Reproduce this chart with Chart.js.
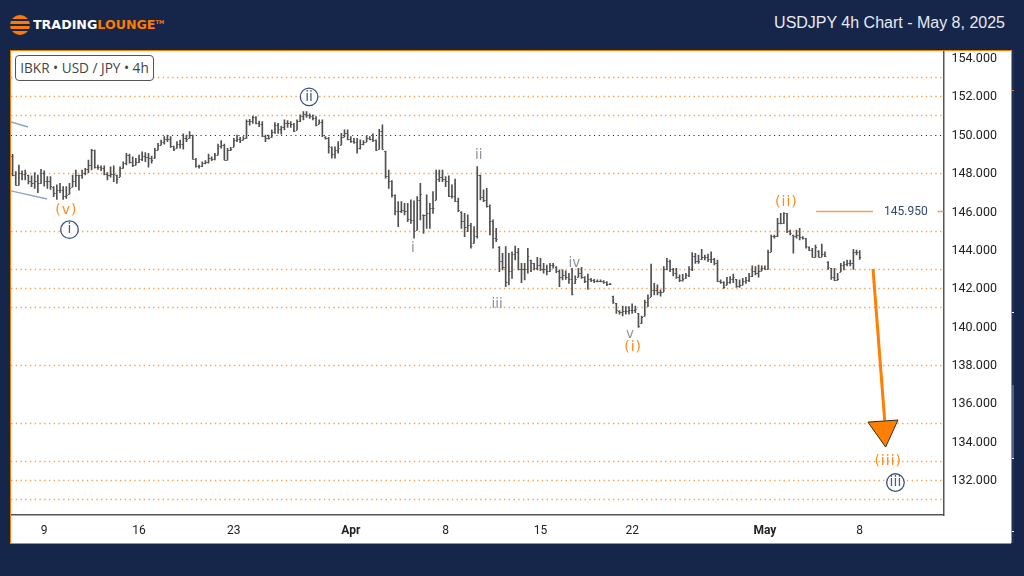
<!DOCTYPE html>
<html>
<head>
<meta charset="utf-8">
<title>USDJPY 4h Chart</title>
<style>
  html, body { margin: 0; padding: 0; width: 1024px; height: 576px; overflow: hidden; background: #16264a; }
  #panel { position: absolute; left: 10px; top: 50px; width: 999.5px; height: 492px; background: #fff; border-top: 1.5px solid #f57c00; border-left: 1.5px solid #f57c00; border-bottom: 1.5px solid #e8802c; box-sizing: content-box; }
  #strip { position: absolute; left: 1011px; top: 50px; width: 3px; height: 493px; background: #1e3058; border-left: 1.2px solid #e8802c; box-sizing: border-box; }
  #stripThumb { position: absolute; left: 1012px; top: 385px; width: 2px; height: 73px; background: #4d5f86; }
  .nick { position: absolute; left: 1012px; width: 2px; height: 1px; background: #fff; }
  #wrap { position: absolute; left: 11px; top: 51px; width: 1000px; height: 492px; }
  #title { position: absolute; right: 19px; top: 14px; font: 16px "Liberation Sans", Arial, sans-serif; color: #e6eaf2; white-space: nowrap; }
  #symbol { position: absolute; left: 15px; top: 55px; width: 139px; height: 26px; box-sizing: border-box; background: #fff; border: 1px solid #555; border-radius: 4px; font: 13.6px "Open Sans", sans-serif; color: #444; line-height: 24px; text-align: center; white-space: nowrap; }
  #logoMark { position: absolute; left: 10px; top: 15px; width: 20px; height: 20px; border-radius: 50%;
    background: linear-gradient(#ff7a00 0 22%, #16264a 22% 30%, #ff7a00 30% 46%, #16264a 46% 54%, #ff7a00 54% 70%, #16264a 70% 78%, #ff7a00 78%); }
  #logoText { position: absolute; left: 33px; top: 17px; font: bold 12.4px "DejaVu Sans", sans-serif; color: #fff; white-space: nowrap; transform: scaleX(1.02); transform-origin: left; font-variant: small-caps; }
  #logoText span { color: #ff7a00; }
  #logoText sup { font-size: 5px; color: #ff7a00; vertical-align: 5px; }
</style>
</head>
<body>
<div id="panel"></div>
<div id="strip"></div>
<div id="stripThumb"></div>
<div class="nick" style="top:312px"></div>
<div class="nick" style="top:458px"></div>
<div class="nick" style="top:531px"></div>
<div class="nick" style="top:90px;background:#f57c00"></div>
<div id="logoMark"></div>
<div id="logoText">TRADING<span>LOUNGE</span><sup>TM</sup></div>
<div id="title">USDJPY 4h Chart - May 8, 2025</div>
<div id="wrap"><canvas id="chart"></canvas></div>
<div id="symbol">IBKR • USD / JPY • 4h</div>

<script src="https://cdn.jsdelivr.net/npm/chart.js@4"></script>
<script>
// 4h bars
const highs = [
  148.98,148.07,148.42,148.12,148.16,147.9,147.85,148.02,147.9,148.19,
  148.12,147.81,147.81,147.29,147.38,147.46,147.29,147.29,147.46,147.9,
  148.16,147.9,148.16,148.25,148.68,149.24,149.2,148.42,148.37,148.37,
  148.02,148.33,148.37,147.9,148.33,148.59,149.03,148.99,148.85,148.77,
  148.94,149.11,149.06,149.03,148.89,149.29,149.55,149.72,149.9,149.98,
  149.9,149.41,149.64,149.72,150.04,149.98,150.16,149.98,148.77,148.42,
  148.59,148.65,148.99,148.85,149.03,149.51,149.69,149.51,149.29,149.34,
  149.81,149.98,149.86,149.9,150.77,150.8,150.97,150.94,150.71,150.68,
  149.98,149.98,150.25,150.63,150.59,150.45,150.77,150.73,150.68,150.59,
  150.77,151.03,151.2,151.2,151.08,151.03,150.94,150.77,150.77,149.9,
  149.86,149.37,149.37,149.64,150.07,150.25,150.25,149.9,149.81,149.81,
  149.73,149.69,149.94,149.9,150.04,149.73,150.28,150.51,149.15,148.16,
  147.61,146.86,146.51,146.51,146.42,146.42,146.6,146.55,146.77,147.47,
  145.82,146.86,146.42,147.03,148.16,148.16,148.16,147.82,147.85,147.38,
  147.68,146.69,145.99,145.9,145.82,145.38,145.21,148.34,147.9,147.12,
  147.2,146.34,145.56,145.12,144.17,143.82,144.17,143.82,143.9,144.2,
  144.08,143.3,143.3,144.08,143.47,143.3,143.61,143.56,143.3,143.21,
  143.3,143.3,143.12,142.95,142.95,142.91,142.78,143.04,142.64,143.04,
  143.09,142.6,142.74,142.51,142.46,142.43,142.43,142.39,142.34,142.25,
  141.59,141.21,140.83,141.07,141.04,141.04,141.18,141.07,140.69,140.55,
  141.38,141.65,143.26,142.25,142.17,141.91,143.12,143.56,143.47,143.04,
  143.04,142.69,142.72,142.77,143.12,143.85,143.82,143.73,144.02,143.73,
  143.78,143.9,143.56,143.47,142.43,142.34,142.57,142.6,142.74,142.46,
  142.43,142.51,142.57,142.77,143.16,143.12,143.21,143.16,143.16,143.99,
  144.77,144.77,145.64,145.9,145.94,145.9,145.03,144.77,145.03,145.12,
  144.69,144.6,144.16,144.08,144.25,143.96,144.3,143.9,143.38,143.03,
  143.03,142.77,143.29,143.38,143.47,143.47,144.02,143.99,143.96
];
const lows = [
  147.85,147.37,147.37,147.64,147.64,147.43,147.29,147.2,146.98,147.46,
  147.32,147.2,147.15,146.77,146.63,146.98,146.63,146.68,146.9,147.29,
  147.29,147.11,147.72,147.9,148.02,148.16,148.25,148.19,148.12,147.9,
  147.64,147.78,147.55,147.46,147.81,148.25,148.42,148.51,148.33,148.42,
  148.54,148.65,148.59,148.3,148.51,148.77,149.2,149.46,149.51,149.64,
  149.34,149.17,149.29,149.29,149.24,149.64,149.81,148.72,148.3,148.25,
  148.33,148.47,148.51,148.65,148.68,148.94,149.29,148.68,148.68,149.17,
  149.38,149.64,149.58,149.72,149.81,150.5,150.59,150.56,150.42,149.9,
  149.64,149.76,149.86,150.07,150.07,150.02,150.25,150.38,150.38,150.16,
  150.25,150.68,150.77,150.9,150.85,150.77,150.45,150.56,149.9,149.76,
  149.03,148.77,148.77,149.03,149.47,149.9,149.73,149.59,149.55,149.03,
  149.24,149.47,149.64,149.73,149.64,149.17,149.24,149.24,147.73,147.2,
  146.74,145.82,145.21,145.94,145.82,145.47,145.38,144.6,145.03,145.56,
  144.86,145.12,145.12,145.9,146.6,147.55,147.55,147.29,146.77,146.69,
  146.51,145.99,145.12,144.69,144.95,144.08,144.34,144.6,146.6,146.51,
  146.22,144.77,144.08,144.43,142.86,142.95,142.08,142.17,142.51,143.47,
  142.95,142.29,142.43,142.78,142.86,142.95,142.95,142.91,142.78,142.69,
  142.86,143.04,142.81,142.08,142.43,142.46,142.25,141.65,142.25,142.57,
  142.51,142.29,141.94,142.34,142.29,142.32,142.32,142.25,142.13,142.18,
  141.21,140.69,140.65,140.55,140.65,140.65,140.69,140.73,139.96,140.17,
  140.55,141.04,141.56,141.65,141.65,141.59,141.82,142.95,142.86,142.64,
  142.51,142.34,142.37,142.51,142.6,142.91,143.29,143.29,143.5,143.47,
  143.38,143.33,143.21,142.34,142.25,141.99,142.17,142.25,142.29,142.04,
  142.04,142.17,142.25,142.34,142.6,142.69,142.57,142.91,142.98,142.98,
  143.9,144.6,144.69,145.35,145.38,144.89,144.77,143.82,144.6,144.51,
  144.55,144.08,143.96,143.61,143.61,143.61,143.64,143.64,142.98,142.46,
  142.39,142.43,142.86,142.95,143.16,143.16,142.98,143.73,143.5
];
const opens = [
  148.9,147.9,147.4,148.0,147.95,147.9,147.6,147.5,147.6,147.5,
  148.0,147.6,147.6,147.29,146.95,147.1,147.1,146.8,146.9,147.29,
  147.6,147.9,147.9,148.0,148.2,148.4,149.2,148.3,148.3,148.25,
  147.95,147.9,147.95,147.9,147.81,148.25,148.5,148.95,148.6,148.42,
  148.6,148.75,148.9,148.85,148.8,148.77,149.2,149.46,149.6,149.75,
  149.8,149.4,149.29,149.5,149.5,149.85,149.81,149.98,148.75,148.35,
  148.35,148.5,148.6,148.8,148.75,148.95,149.4,149.45,148.7,149.2,
  149.38,149.7,149.8,149.72,149.85,150.7,150.7,150.9,150.6,150.55,
  149.95,149.85,149.86,150.15,150.5,150.3,150.4,150.6,150.6,150.55,
  150.25,150.7,150.95,151.1,151.05,150.95,150.85,150.56,150.65,149.9,
  149.85,149.37,149.0,149.2,149.47,149.9,150.1,149.8,149.65,149.6,
  149.3,149.5,149.64,149.85,149.8,149.7,149.24,150.2,149.15,147.85,
  147.6,146.85,146.0,146.0,146.1,146.0,145.6,145.55,145.03,146.6,
  145.82,145.8,145.9,146.2,146.6,147.7,147.8,147.7,147.6,146.8,
  146.8,146.55,145.99,145.5,145.2,145.3,144.34,144.7,147.9,146.75,
  146.6,146.3,145.5,144.6,144.17,143.4,143.1,142.3,142.9,143.8,
  143.9,143.0,143.0,143.0,143.47,143.3,143.05,143.2,143.0,143.0,
  142.9,143.2,143.12,142.9,142.6,142.7,142.6,142.5,142.25,142.57,
  142.8,142.6,142.35,142.5,142.45,142.4,142.38,142.39,142.3,142.2,
  141.59,141.21,140.83,140.75,140.8,140.8,140.85,140.85,140.69,140.17,
  140.55,141.3,141.56,141.9,141.9,141.8,141.82,143.0,143.4,143.0,
  142.8,142.6,142.45,142.51,142.7,143.0,143.7,143.4,143.5,143.6,
  143.6,143.5,143.5,143.3,142.4,142.3,142.17,142.3,142.5,142.46,
  142.1,142.17,142.35,142.45,142.65,142.9,142.8,142.91,143.05,143.0,
  143.9,144.7,144.7,145.4,145.4,145.9,145.0,144.77,144.7,144.75,
  144.65,144.6,144.16,144.0,143.65,143.96,143.65,143.8,143.38,143.03,
  142.6,142.45,142.86,143.2,143.25,143.3,143.3,143.9,143.9
];
const closes = [
  147.9,147.4,148.0,147.95,148.0,147.6,147.5,147.6,147.5,148.0,
  147.6,147.6,147.3,146.95,147.1,147.1,146.8,146.85,147.2,147.6,
  147.9,147.9,148.0,148.2,148.4,149.2,148.3,148.3,148.25,147.95,
  147.9,147.95,147.95,147.7,148.25,148.5,148.95,148.6,148.4,148.6,
  148.75,148.9,148.85,148.8,148.7,149.2,149.45,149.6,149.75,149.8,
  149.4,149.25,149.5,149.5,149.85,149.8,150.0,148.75,148.35,148.35,
  148.5,148.6,148.8,148.75,148.95,149.4,149.45,148.7,149.2,149.25,
  149.7,149.8,149.7,149.85,150.7,150.7,150.9,150.6,150.55,149.95,
  149.85,149.85,150.15,150.5,150.3,150.4,150.6,150.6,150.55,150.2,
  150.7,150.95,151.1,151.05,150.95,150.85,150.5,150.65,150.0,149.85,
  149.4,149.0,149.2,149.3,149.9,150.1,149.8,149.65,149.6,149.3,
  149.5,149.6,149.85,149.8,149.7,149.2,150.2,149.25,147.85,147.6,
  146.85,146.0,146.0,146.1,146.0,145.6,145.55,145.0,146.6,146.9,
  145.8,145.9,146.2,146.2,147.7,147.8,147.7,147.6,146.8,146.8,
  146.55,146.1,145.5,145.2,145.3,144.2,144.7,147.9,146.75,146.6,
  146.3,145.5,144.6,144.55,143.4,143.1,142.3,142.9,143.8,143.9,
  143.0,143.0,143.0,143.7,143.3,143.05,143.2,143.0,143.0,142.9,
  143.2,143.2,142.9,142.6,142.7,142.6,142.5,141.7,142.5,142.8,
  142.6,142.35,142.5,142.45,142.4,142.38,142.4,142.3,142.2,142.2,
  141.3,140.85,140.75,140.8,140.8,140.85,140.85,140.9,140.05,140.5,
  141.3,141.5,141.9,141.9,141.8,141.8,143.0,143.4,143.0,142.8,
  142.6,142.45,142.5,142.7,143.0,143.7,143.4,143.4,143.6,143.6,
  143.5,143.5,143.3,142.4,142.3,142.05,142.3,142.5,142.6,142.1,
  142.15,142.35,142.45,142.65,142.9,142.8,142.9,143.05,143.0,143.9,
  144.7,144.7,145.4,145.4,145.9,145.0,144.85,144.7,144.75,144.65,
  144.6,144.2,144.0,143.65,144.15,143.65,143.8,143.7,143.1,142.6,
  142.45,142.5,143.2,143.25,143.3,143.3,143.9,143.9,143.6
];

// axis
const slotCount = 295;
const priceMin = 130.18;
const priceMax = 154.36;
const priceTicks = [132,134,136,138,140,142,144,146,148,150,152,154];
const timeTickSlots = [10,40,70,107,137,167,196,238,268];
const timeTickLabels = ['9','16','23','Apr','8','15','22','May','8'];
const boldTimeLabels = ['Apr','May'];

// horizontal levels
const orangeLevels = [153,152,151,148,145,143,142,141,138,135,133,132,131];
const blackLevels = [150];
const targetLevel = 145.95;
const targetLabel = '145.950';

// wave counts: slot, price
const orangeWaves = [['(v)',17,146.05],['(i)',196.3,138.9],['(ii)',244.8,146.45],['(iii)',277,133.0]];
const navyWaves = [['i',18,145.05],['ii',93.8,151.97],['iii',279.3,131.87]];
const grayWaves = [['i',126.6,144.05],['ii',147.5,148.9],['iii',153.3,141.15],['iv',177.7,143.3],['v',195.3,139.6]];

const timeLabels = highs.concat(new Array(slotCount - highs.length).fill(null)).map((_, i) => {
  const at = timeTickSlots.indexOf(i);
  return at >= 0 ? timeTickLabels[at] : '';
});
const ranges = lows.map((lo, i) => [lo, highs[i]]);

function waveText(c, str, x, y, color) {
  c.fillStyle = color;
  c.textAlign = 'center';
  c.textBaseline = 'middle';
  c.fillText(str, x, y);
}

const overlayPlugin = {
  id: 'overlay',
  // level lines go under the bars
  beforeDatasetsDraw(chart) {
    const { ctx: c, chartArea: a, scales: { x, y } } = chart;
    c.save();
    c.lineWidth = 1.4;
    c.strokeStyle = '#f8a24e';
    c.setLineDash([1.4, 3.34]);
    orangeLevels.forEach(p => {
      const py = Math.round(y.getPixelForValue(p)) + 0.5;
      c.beginPath(); c.moveTo(a.left, py); c.lineTo(a.right, py); c.stroke();
    });
    c.strokeStyle = '#111';
    c.lineWidth = 1;
    c.setLineDash([1, 3.74]);
    blackLevels.forEach(p => {
      const py = Math.round(y.getPixelForValue(p)) + 0.5;
      c.beginPath(); c.moveTo(a.left, py); c.lineTo(a.right, py); c.stroke();
    });
    c.restore();
  },
  afterDatasetsDraw(chart) {
    const { ctx: c, chartArea: a, scales: { x, y } } = chart;
    const X = v => x.getPixelForValue(v), Y = v => y.getPixelForValue(v);
    c.save();

    // open / close ticks
    c.strokeStyle = '#555';
    c.lineWidth = 1;
    highs.forEach((_, i) => {
      const px = X(i);
      const po = Math.round(Y(opens[i])) + 0.5, pc = Math.round(Y(closes[i])) + 0.5;
      c.beginPath();
      c.moveTo(px - 1.4, po); c.lineTo(px, po);
      c.moveTo(px, pc); c.lineTo(px + 1.4, pc);
      c.stroke();
    });

    // old channel stubs on the left edge
    c.strokeStyle = '#8ea4cd';
    c.lineWidth = 1.4;
    c.beginPath();
    c.moveTo(X(-0.5), Y(150.66)); c.lineTo(X(4.9), Y(150.4));
    c.moveTo(X(-0.5), Y(147.07)); c.lineTo(X(10.9), Y(146.65));
    c.stroke();

    // target level line with its value
    c.strokeStyle = '#f9a04c';
    c.lineWidth = 1.4;
    const ty = Math.round(Y(targetLevel)) - 0.5;
    c.beginPath();
    c.moveTo(X(254.2), ty); c.lineTo(X(272.2), ty);
    c.moveTo(X(292.6), ty); c.lineTo(a.right, ty);
    c.stroke();
    c.font = '12px Roboto, sans-serif';
    waveText(c, targetLabel, X(282.6), ty, '#33466f');

    // projection arrow
    c.strokeStyle = '#ff7f00';
    c.lineWidth = 3;
    c.beginPath();
    c.moveTo(X(272.2), Y(143)); c.lineTo(X(275.9), Y(135.1));
    c.stroke();
    c.fillStyle = '#ff7f00';
    c.strokeStyle = '#3a2a14';
    c.lineWidth = 1;
    c.beginPath();
    c.moveTo(X(270.6), Y(135.02)); c.lineTo(X(280.1), Y(135.13)); c.lineTo(X(276.2), Y(133.72));
    c.closePath(); c.fill(); c.stroke();

    // wave labels
    c.font = '14px "DejaVu Sans", sans-serif';
    c.letterSpacing = '1px';
    orangeWaves.forEach(([t, s, p]) => waveText(c, t, X(s), Y(p), '#ff8a1f'));
    c.letterSpacing = '0px';
    navyWaves.forEach(([t, s, p]) => {
      c.strokeStyle = '#3c5080';
      c.lineWidth = 1.3;
      c.beginPath(); c.arc(X(s), Y(p), 8.8, 0, Math.PI * 2);
      c.fillStyle = 'rgba(255,255,255,0.85)';
      c.fill(); c.stroke();
      waveText(c, t, X(s), Y(p), '#4a5b82');
    });
    c.font = '13.5px "DejaVu Sans", sans-serif';
    grayWaves.forEach(([t, s, p]) => waveText(c, t, X(s), Y(p), '#8f929e'));
    c.restore();
  }
};

new Chart(document.getElementById('chart'), {
  type: 'bar',
  data: {
    labels: timeLabels,
    datasets: [{ data: ranges, backgroundColor: '#505050', barThickness: 1, borderWidth: 0 }]
  },
  options: {
    responsive: true, maintainAspectRatio: false, animation: false,
    layout: { padding: 0 },
    plugins: { legend: { display: false }, tooltip: { enabled: false } },
    scales: {
      x: {
        offset: true,
        grid: { display: false, drawTicks: false },
        border: { display: true, color: '#555', width: 1.5 },
        afterFit: s => { s.height = 28; s.paddingLeft = 0; s.paddingRight = 0; },
        ticks: {
          autoSkip: false, maxRotation: 0, padding: 9,
          color: '#222',
          font: ctx => ({ family: 'Roboto, sans-serif', size: 12, weight: boldTimeLabels.includes(ctx.tick && ctx.tick.label) ? 'bold' : 'normal' })
        }
      },
      y: {
        position: 'right',
        min: priceMin, max: priceMax,
        grid: { display: false, drawTicks: false },
        border: { display: true, color: '#555', width: 1.5 },
        afterFit: s => { s.width = 67.5; s.paddingTop = 0; s.paddingBottom = 0; },
        afterBuildTicks: s => { s.ticks = priceTicks.map(v => ({ value: v })); },
        ticks: {
          color: '#222', padding: 8, labelOffset: 1,
          font: { family: 'Roboto, sans-serif', size: 12.5 },
          callback: v => Number(v).toFixed(3)
        }
      }
    }
  },
  plugins: [overlayPlugin]
});
</script>
</body>
</html>
